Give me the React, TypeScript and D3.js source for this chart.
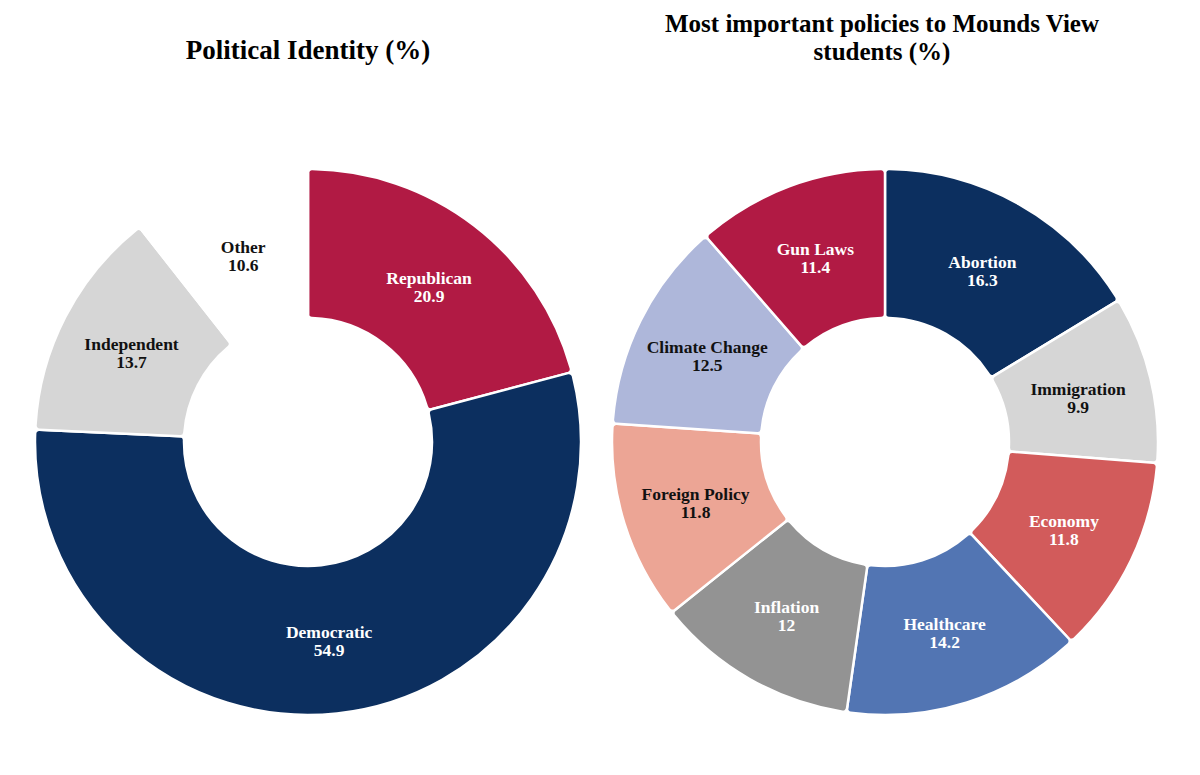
import React from 'react'
import * as d3 from 'd3'

const identityLabels = ['Republican', 'Democratic', 'Independent', 'Other']
const identityValues = [20.9, 54.9, 13.7, 10.6]
const identityColors = ['#b11a44', '#0c2f5f', '#d6d6d6', '#ffffff']
const identityText = ['#ffffff', '#ffffff', '#111111', '#111111']

const policyLabels = [
  'Abortion',
  'Immigration',
  'Economy',
  'Healthcare',
  'Inflation',
  'Foreign Policy',
  'Climate Change',
  'Gun Laws',
]
const policyValues = [16.3, 9.9, 11.8, 14.2, 12, 11.8, 12.5, 11.4]
const policyColors = ['#0c2f5f', '#d6d6d6', '#d25b5b', '#5275b3', '#939393', '#eca595', '#aeb7da', '#b11a44']
const policyText = ['#ffffff', '#111111', '#ffffff', '#ffffff', '#ffffff', '#111111', '#111111', '#ffffff']

const FONT = '"Liberation Serif", "DejaVu Serif", serif'
const OUTER = 273
const INNER = 124

type DonutProps = {
  cx: number
  cy: number
  labels: string[]
  values: number[]
  colors: string[]
  textColors: string[]
}

function Donut({ cx, cy, labels, values, colors, textColors }: DonutProps): JSX.Element {
  const pie = d3
    .pie<number>()
    .sort(null)
    .value((d) => d)
  const arcs = pie(values)
  const arcFn = d3
    .arc<d3.PieArcDatum<number>>()
    .innerRadius(INNER)
    .outerRadius(OUTER)
    .cornerRadius(4)

  return (
    <g transform={`translate(${cx},${cy})`}>
      {arcs.map((a, i) => (
        <path key={labels[i]} d={arcFn(a) || ''} fill={colors[i]} stroke="#ffffff" strokeWidth={2.5} />
      ))}
      {arcs.map((a, i) => {
        const [x, y] = arcFn.centroid(a)
        return (
          <text
            key={'t' + labels[i]}
            x={x}
            y={y - 1}
            textAnchor="middle"
            fontFamily={FONT}
            fontWeight="bold"
            fontSize={17.5}
            fill={textColors[i]}
          >
            <tspan x={x} dy={0}>
              {labels[i]}
            </tspan>
            <tspan x={x} dy={18}>
              {String(values[i])}
            </tspan>
          </text>
        )
      })}
    </g>
  )
}

export default function App(): JSX.Element {
  return (
    <svg
      width={1200}
      height={775}
      style={{ position: 'absolute', left: 0, top: 0, background: '#ffffff' }}
      xmlns="http://www.w3.org/2000/svg"
    >
      <text x={308} y={59} textAnchor="middle" fontFamily={FONT} fontWeight="bold" fontSize={27} fill="#000">
        Political Identity (%)
      </text>
      <text x={882} y={32} textAnchor="middle" fontFamily={FONT} fontWeight="bold" fontSize={25} fill="#000">
        <tspan x={882}>Most important policies to Mounds View</tspan>
        <tspan x={882} dy={28}>
          students (%)
        </tspan>
      </text>
      <Donut
        cx={308}
        cy={442}
        labels={identityLabels}
        values={identityValues}
        colors={identityColors}
        textColors={identityText}
      />
      <Donut
        cx={885}
        cy={442}
        labels={policyLabels}
        values={policyValues}
        colors={policyColors}
        textColors={policyText}
      />
    </svg>
  )
}
